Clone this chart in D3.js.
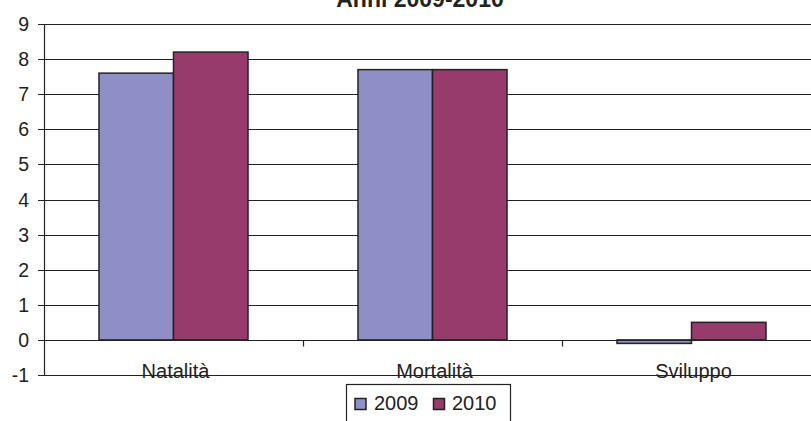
<!DOCTYPE html>
<html>
<head>
<meta charset="utf-8">
<script src="https://cdn.jsdelivr.net/npm/d3@7/dist/d3.min.js"></script>
<style>
  html, body { margin: 0; padding: 0; background: #fff; }
  svg { display: block; font-family: "Liberation Sans", Arial, sans-serif; }
</style>
</head>
<body>
<svg id="chart" width="811" height="421"></svg>
<script>
// Tassi demografici per anno
const categories = ["Natalità", "Mortalità", "Sviluppo"];
const seriesNames = ["2009", "2010"];
const values2009 = [7.6, 7.7, -0.1];
const values2010 = [8.2, 7.7, 0.5];
const yTicks = [-1, 0, 1, 2, 3, 4, 5, 6, 7, 8, 9];
const seriesColors = ["#8f8fc8", "#973a6c"];
const chartTitle = "Anni 2009-2010";

const series = [values2009, values2010];
const rows = categories.map((c, i) => ({
  category: c,
  values: seriesNames.map((s, k) => ({ key: s, value: series[k][i], color: seriesColors[k] }))
}));

const svg = d3.select("#chart");
const plot = { left: 44, right: 821, top: 24, bottom: 375 };

const x0 = d3.scaleBand().domain(categories).range([plot.left, plot.right]).padding(0);
const x1 = d3.scaleBand().domain(seriesNames).range([0, x0.bandwidth()])
  .paddingInner(0).paddingOuter(0.738);
const y = d3.scaleLinear().domain([-1, 9]).range([plot.bottom, plot.top]);

const ink = "#222";

// Title
svg.append("text")
  .attr("x", 420).attr("y", 7)
  .attr("text-anchor", "middle")
  .attr("font-size", 23).attr("font-weight", "bold")
  .attr("fill", ink)
  .text(chartTitle);

// Horizontal gridlines with left tick marks
svg.append("g").selectAll("line")
  .data(yTicks)
  .join("line")
  .attr("x1", plot.left - 6).attr("x2", plot.right)
  .attr("y1", d => Math.round(y(d)) + 0.5).attr("y2", d => Math.round(y(d)) + 0.5)
  .attr("stroke", ink).attr("stroke-width", 1.2);

// Value axis labels
svg.append("g").selectAll("text")
  .data(yTicks)
  .join("text")
  .attr("x", 29).attr("y", d => y(d))
  .attr("dy", "0.36em")
  .attr("text-anchor", "end")
  .attr("font-size", 19.5).attr("fill", ink)
  .text(d => d);

// Value axis line
svg.append("line")
  .attr("x1", plot.left + 0.5).attr("x2", plot.left + 0.5)
  .attr("y1", plot.top).attr("y2", plot.bottom + 0.5)
  .attr("stroke", ink).attr("stroke-width", 1.2);

// Bars
const groups = svg.append("g").selectAll("g")
  .data(rows)
  .join("g")
  .attr("transform", d => `translate(${x0(d.category)},0)`);

groups.selectAll("rect")
  .data(d => d.values)
  .join("rect")
  .attr("x", d => x1(d.key))
  .attr("y", d => Math.min(y(d.value), y(0)))
  .attr("width", x1.bandwidth())
  .attr("height", d => Math.abs(y(d.value) - y(0)))
  .attr("fill", d => d.color)
  .attr("stroke", ink).attr("stroke-width", 1.5);

// Category axis along zero with tick marks at category boundaries
const zeroY = Math.round(y(0)) + 0.5;
svg.append("line")
  .attr("x1", plot.left).attr("x2", plot.right)
  .attr("y1", zeroY).attr("y2", zeroY)
  .attr("stroke", ink).attr("stroke-width", 1.2);

svg.append("g").selectAll("line")
  .data(categories.slice(1))
  .join("line")
  .attr("x1", d => Math.round(x0(d)) + 0.5).attr("x2", d => Math.round(x0(d)) + 0.5)
  .attr("y1", zeroY).attr("y2", zeroY + 6)
  .attr("stroke", ink).attr("stroke-width", 1.2);

// Category labels
svg.append("g").selectAll("text")
  .data(categories)
  .join("text")
  .attr("x", d => x0(d) + x0.bandwidth() / 2 + 2)
  .attr("y", 378)
  .attr("text-anchor", "middle")
  .attr("font-size", 20).attr("fill", ink)
  .text(d => d);

// Legend
const legend = svg.append("g");
legend.append("rect")
  .attr("x", 346.5).attr("y", 384.5)
  .attr("width", 164).attr("height", 50)
  .attr("fill", "#fff").attr("stroke", ink).attr("stroke-width", 1.2);

const legendItems = [
  { key: seriesNames[0], color: seriesColors[0], sx: 355, tx: 374 },
  { key: seriesNames[1], color: seriesColors[1], sx: 433.5, tx: 452 }
];
legend.selectAll("rect.swatch")
  .data(legendItems)
  .join("rect")
  .attr("class", "swatch")
  .attr("x", d => d.sx).attr("y", 398.5)
  .attr("width", 11).attr("height", 11)
  .attr("fill", d => d.color)
  .attr("stroke", ink).attr("stroke-width", 1.5);
legend.selectAll("text")
  .data(legendItems)
  .join("text")
  .attr("x", d => d.tx).attr("y", 410)
  .attr("font-size", 20).attr("fill", ink)
  .text(d => d.key);
</script>
</body>
</html>
